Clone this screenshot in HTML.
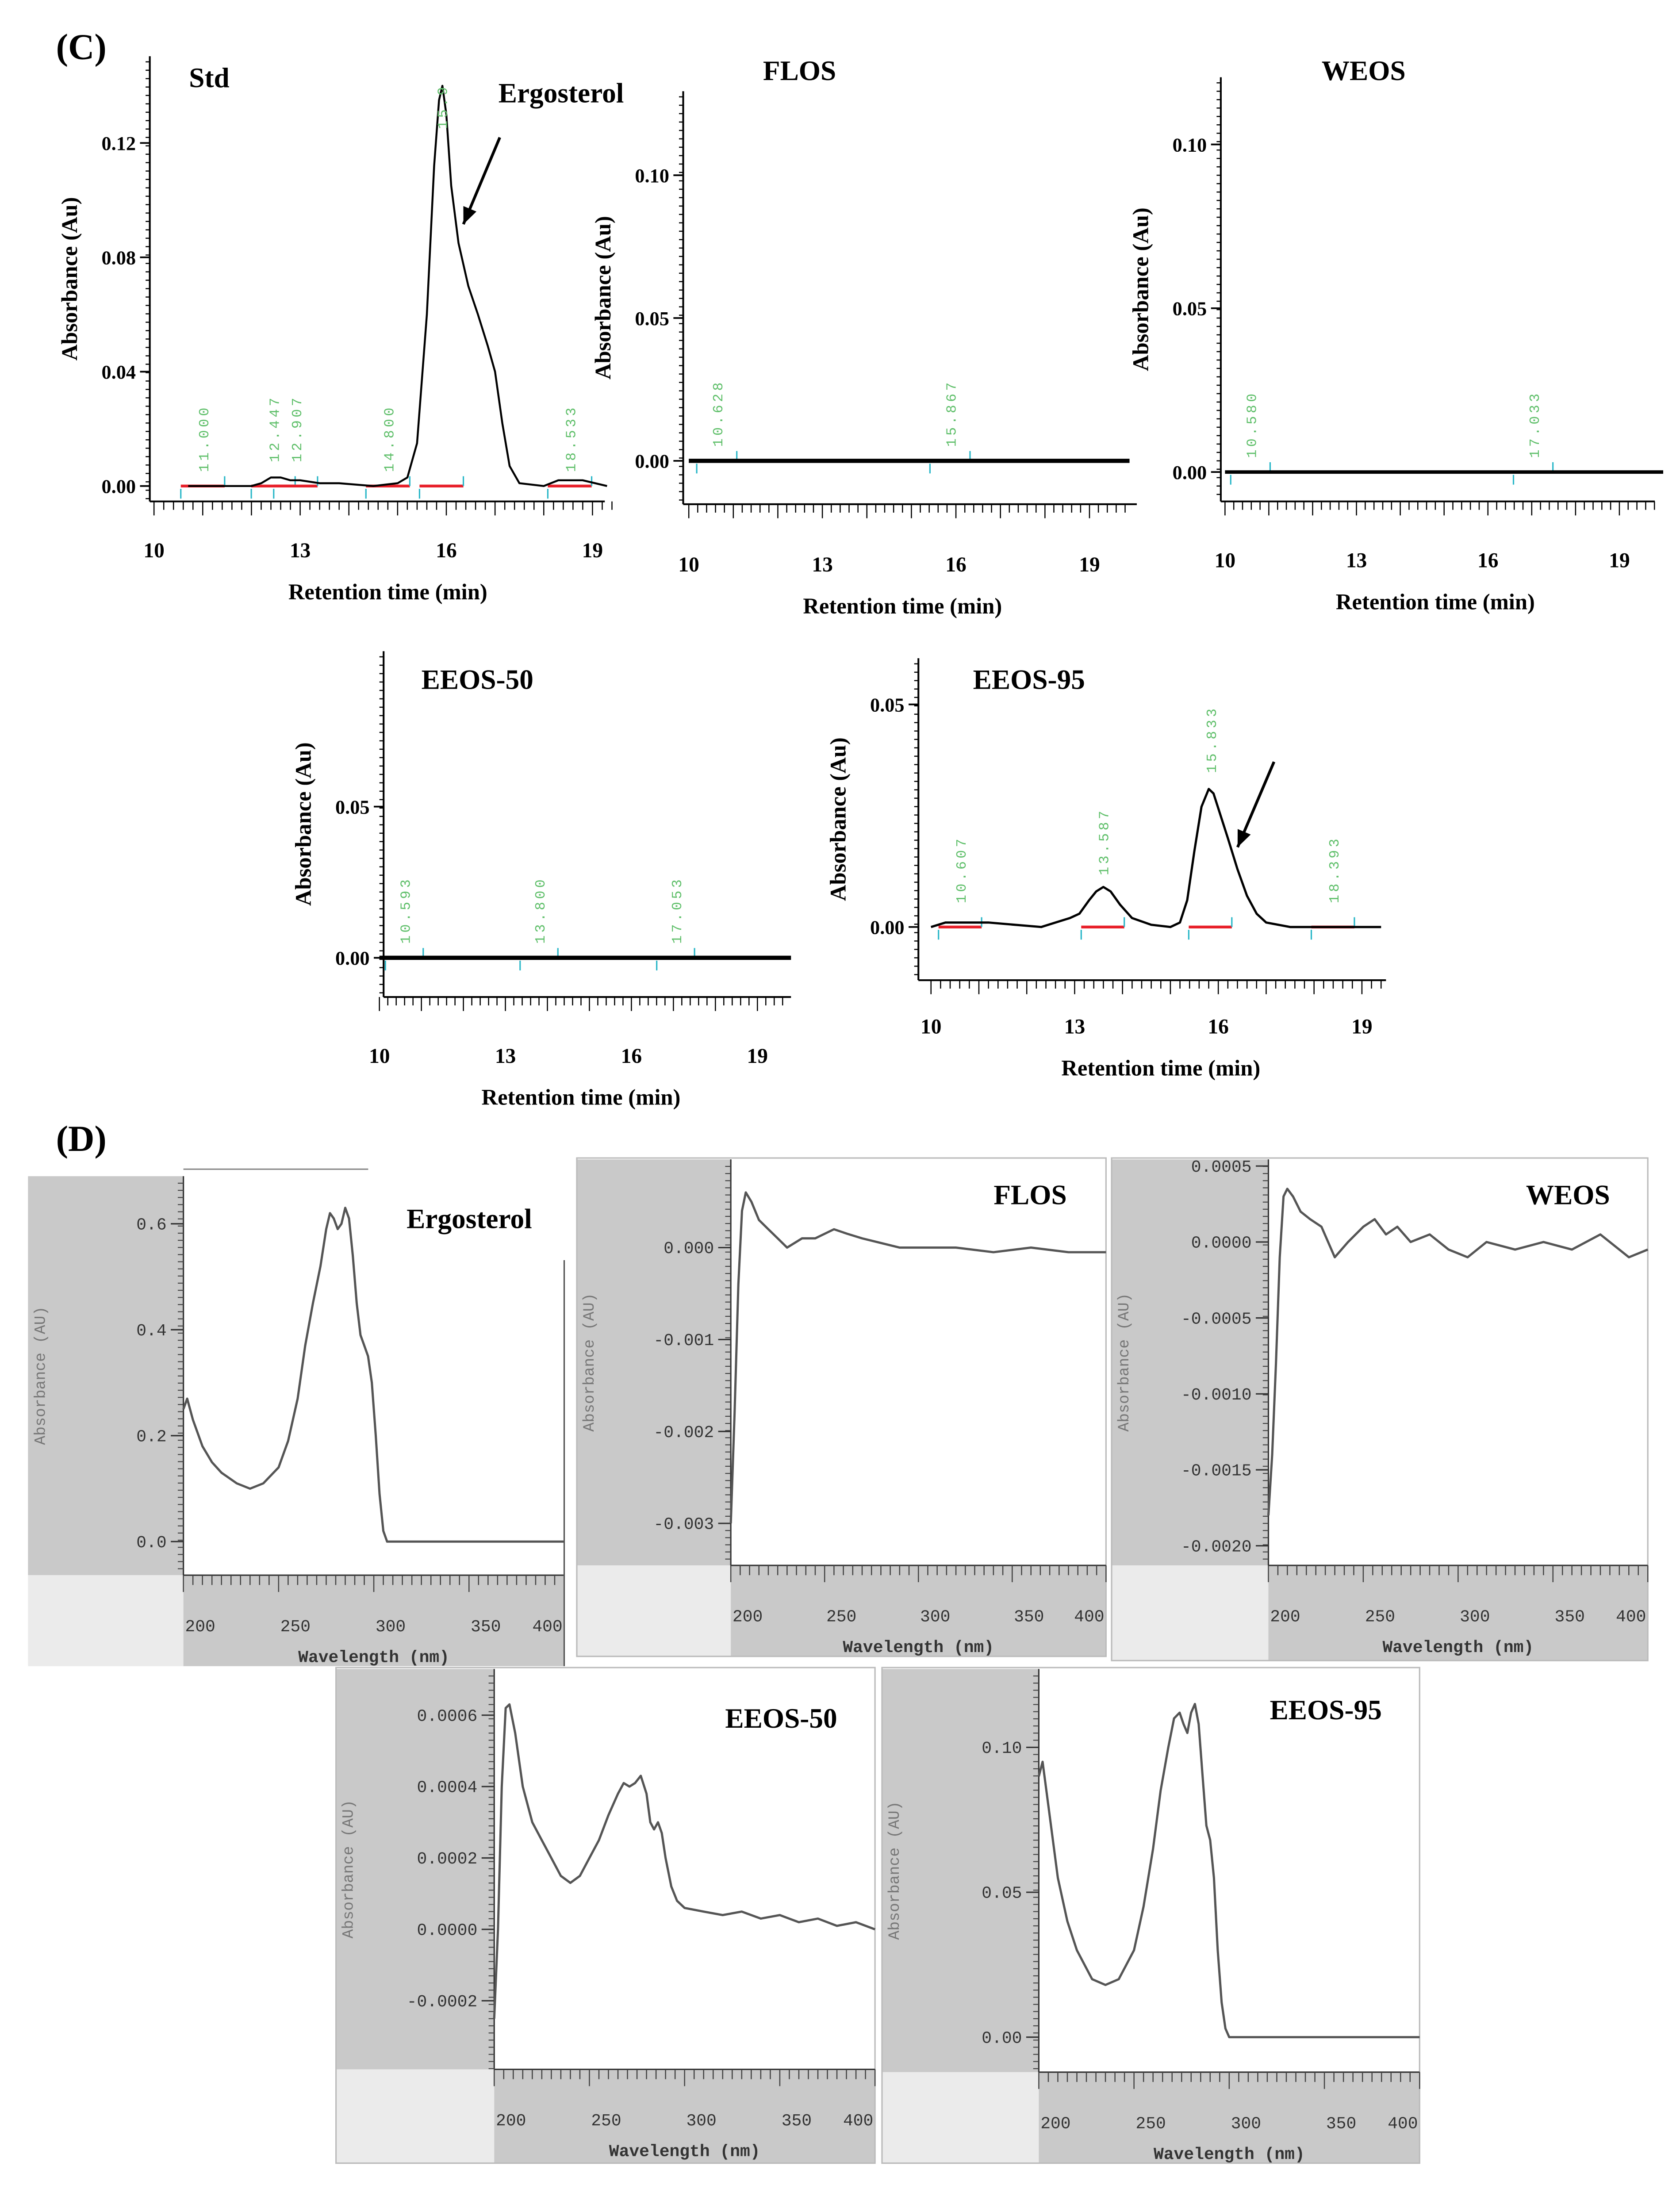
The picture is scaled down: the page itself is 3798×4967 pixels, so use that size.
<!DOCTYPE html>
<html><head><meta charset="utf-8">
<style>
html,body{margin:0;padding:0;background:#fff;}
svg{display:block;}
.serif{font-family:"Liberation Serif",serif;font-weight:bold;}
.mono{font-family:"Liberation Mono",monospace;}
</style></head>
<body>
<svg id="fig" width="3798" height="4967" viewBox="0 0 1200 1569" xmlns="http://www.w3.org/2000/svg">
<text x="40" y="42" class="serif" font-size="26">(C)</text>
<text x="40" y="822" class="serif" font-size="26">(D)</text>
</svg>
<script>
// ---------- Chromatogram data (retention time min, absorbance Au) ----------
const stdTimes = [10.7,12.0,12.2,12.4,12.6,12.8,13.0,13.4,13.8,14.5,15.0,15.2,15.4,15.6,15.75,15.85,15.92,16.0,16.1,16.25,16.45,16.65,16.85,17.0,17.15,17.3,17.5,18.0,18.3,18.8,19.3];
const stdValues = [0,0,0.001,0.003,0.003,0.002,0.002,0.001,0.001,0,0.001,0.003,0.015,0.06,0.112,0.135,0.14,0.13,0.105,0.085,0.07,0.06,0.049,0.04,0.022,0.007,0.001,0,0.002,0.002,0];
const flosTimes = [10.0,19.9];
const flosValues = [0,0];
const weosTimes = [10.0,20.0];
const weosValues = [0,0];
const eeos50Times = [10.0,19.8];
const eeos50Values = [0,0];
const eeos95Times = [10.0,10.3,11.2,12.3,12.6,12.9,13.1,13.3,13.45,13.6,13.75,13.95,14.2,14.6,15.0,15.2,15.35,15.5,15.65,15.8,15.9,16.05,16.2,16.4,16.6,16.8,17.0,17.5,18.5,19.0,19.4];
const eeos95Values = [0,0.001,0.001,0,0.001,0.002,0.003,0.006,0.008,0.009,0.008,0.005,0.002,0.0005,0,0.001,0.006,0.017,0.027,0.031,0.03,0.025,0.02,0.013,0.007,0.003,0.001,0,0,0,0];
const stdPeaks = ["11.000","12.447","12.907","14.800","15.9","18.533"];
const stdPeakTimes = [11.0,12.447,12.907,14.8,15.9,18.533];
const flosPeaks = ["10.628","15.867"];
const flosPeakTimes = [10.628,15.867];
const weosPeaks = ["10.580","17.033"];
const weosPeakTimes = [10.58,17.033];
const eeos50Peaks = ["10.593","13.800","17.053"];
const eeos50PeakTimes = [10.593,13.8,17.053];
const eeos95Peaks = ["10.607","13.587","15.833","18.393"];
const eeos95PeakTimes = [10.607,13.587,15.833,18.393];
const xTickLabels = ["10","13","16","19"];

// ---------- UV spectra data (wavelength nm, absorbance AU) ----------
const ergoWl = [200,202,205,210,215,220,228,235,242,250,255,260,264,268,272,275,277,279,281,283,285,287,289,291,293,295,297,299,301,303,305,307,400];
const ergoAbs = [0.25,0.27,0.23,0.18,0.15,0.13,0.11,0.1,0.11,0.14,0.19,0.27,0.37,0.45,0.52,0.59,0.62,0.61,0.59,0.6,0.63,0.61,0.54,0.45,0.39,0.37,0.35,0.3,0.2,0.09,0.02,0,0];
const flosWl = [200,202,204,206,208,211,215,220,225,230,238,245,255,262,270,280,290,300,320,340,360,380,400];
const flosAbs = [-0.003,-0.0018,-0.0004,0.0004,0.0006,0.0005,0.0003,0.0002,0.0001,0.0,0.0001,0.0001,0.0002,0.00015,0.0001,0.00005,0.0,0.0,0.0,-0.00005,0.0,-0.00005,-0.00005];
const weosWl = [200,202,204,206,208,210,213,217,222,228,235,242,250,256,262,268,275,285,295,305,315,330,345,360,375,390,400];
const weosAbs = [-0.0018,-0.0014,-0.0008,-0.0001,0.0003,0.00035,0.0003,0.0002,0.00015,0.0001,-0.0001,0.0,0.0001,0.00015,0.00005,0.0001,0.0,0.00005,-0.00005,-0.0001,0.0,-0.00005,0.0,-0.00005,0.00005,-0.0001,-0.00005];
const e50Wl = [200,202,204,206,208,211,215,220,225,230,235,240,245,250,255,260,265,268,271,274,277,280,282,284,286,288,290,293,296,300,310,320,330,340,350,360,370,380,390,400];
const e50Abs = [-0.00025,0.0,0.0004,0.00062,0.00063,0.00055,0.0004,0.0003,0.00025,0.0002,0.00015,0.00013,0.00015,0.0002,0.00025,0.00032,0.00038,0.00041,0.0004,0.00041,0.00043,0.00038,0.0003,0.00028,0.0003,0.00027,0.0002,0.00012,0.00008,0.00006,0.00005,0.00004,0.00005,0.00003,0.00004,0.00002,0.00003,0.00001,0.00002,0.0];
const e95Wl = [200,202,205,210,215,220,228,235,242,250,255,260,264,268,271,274,276,278,280,282,284,286,288,290,292,294,296,298,300,400];
const e95Abs = [0.09,0.095,0.08,0.055,0.04,0.03,0.02,0.018,0.02,0.03,0.045,0.065,0.085,0.1,0.11,0.112,0.108,0.105,0.112,0.115,0.108,0.09,0.073,0.068,0.055,0.03,0.012,0.003,0,0];
const wlTicks = ["200","250","300","350","400"];

const NS="http://www.w3.org/2000/svg";
const svg=document.getElementById('fig');
function mk(tag,attrs,name,parent){
  const el=document.createElementNS(NS,tag);
  for(const k in attrs) el.setAttribute(k,attrs[k]);
  
  
  (parent||svg).appendChild(el);
  return el;
}
function txt(x,y,s,attrs,name){const t=mk('text',Object.assign({x:x,y:y},attrs),name);t.textContent=s;return t;}

function chrom(c){
  const g=mk('g',{},c.id+'-chart');
  const tx=t=>c.a+(t-10)*c.k, ty=v=>c.b-v*c.m;
  mk('line',{x1:c.ax,y1:c.top,x2:c.ax,y2:c.bot,stroke:'#000','stroke-width':1.3},c.id+'-y-axis',g);
  for(let y=c.top+4;y<c.bot;y+=6) mk('line',{x1:c.ax-3,y1:y,x2:c.ax,y2:y,stroke:'#000','stroke-width':0.8},'y-minor-tick',g);
  c.yt.forEach((v,i)=>{
    mk('line',{x1:c.ax-7,y1:ty(v),x2:c.ax,y2:ty(v),stroke:'#000','stroke-width':1.2},'y-major-tick',g);
    txt(c.ax-10,ty(v)+5,c.yl[i],{'class':'serif','font-size':14,'text-anchor':'end','font-weight':'normal'},'y-tick-label');
  });
  mk('line',{x1:c.ax,y1:c.bot,x2:c.xend,y2:c.bot,stroke:'#000','stroke-width':1.3},c.id+'-x-axis',g);
  for(let t=10;t<=c.tmax;t+=0.2){const x=tx(t);const maj=Math.abs(t-Math.round(t))<0.01;
    mk('line',{x1:x,y1:c.bot,x2:x,y2:c.bot+(maj?10:6),stroke:'#000','stroke-width':0.8},'x-tick',g);}
  xTickLabels.forEach(l=>txt(tx(+l),c.lab,l,{'class':'serif','font-size':15,'text-anchor':'middle','font-weight':'normal'},'x-tick-label'));
  txt(tx(14.8),c.lab+30,'Retention time (min)',{'class':'serif','font-size':16,'text-anchor':'middle','font-weight':'normal'},'x-axis-title');
  const yc=(c.top+c.bot)/2;
  txt(c.ax-52,yc,'Absorbance (Au)',{'class':'serif','font-size':16,'text-anchor':'middle','font-weight':'normal',transform:`rotate(-90 ${c.ax-52} ${yc})`},'y-axis-title');
  txt(c.tx,c.ty,c.title,{'class':'serif','font-size':20,'font-weight':'normal'},'chart-title');
  c.pt.forEach((t,i)=>{
    mk('line',{x1:tx(t-0.45),y1:ty(0),x2:tx(t+0.45),y2:ty(0),stroke:'#e8202a','stroke-width':2},'integration-baseline',g);
    mk('line',{x1:tx(t-0.45),y1:ty(0)+2,x2:tx(t-0.45),y2:ty(0)+9,stroke:'#2ab7c8','stroke-width':1},'peak-start-marker',g);
    mk('line',{x1:tx(t+0.45),y1:ty(0)-7,x2:tx(t+0.45),y2:ty(0),stroke:'#2ab7c8','stroke-width':1},'peak-end-marker',g);
    const px=tx(t)+4, py=c.py?c.py[i]:ty(0)-10;
    txt(px,py,c.pl[i],{'font-family':'Liberation Mono,monospace','font-size':10,fill:'#5fbf6a','letter-spacing':2,transform:`rotate(-90 ${px} ${py})`},'peak-label');
  });
  const d=c.times.map((t,i)=>(i?'L':'M')+tx(t).toFixed(1)+' '+ty(c.vals[i]).toFixed(1)).join(' ');
  mk('path',{d:d,fill:'none',stroke:'#000','stroke-width':c.w,'stroke-linejoin':'round'},c.id+'-trace',g);
}
chrom({id:'std',a:110,k:34.8,b:347,m:2042,ax:107,top:40,bot:358,xend:432,tmax:19.4,lab:398,yt:[0,0.04,0.08,0.12],yl:["0.00","0.04","0.08","0.12"],title:'Std',tx:135,ty:62,times:stdTimes,vals:stdValues,pt:stdPeakTimes,pl:stdPeaks,py:[337,330,330,337,92,337],w:1.4});
chrom({id:'flos',a:492,k:31.8,b:329,m:2040,ax:488,top:65,bot:360,xend:812,tmax:19.9,lab:408,yt:[0,0.05,0.1],yl:["0.00","0.05","0.10"],title:'FLOS',tx:545,ty:57,times:flosTimes,vals:flosValues,pt:flosPeakTimes,pl:flosPeaks,w:3});
chrom({id:'weos',a:875,k:31.3,b:337,m:2340,ax:872,top:55,bot:358,xend:1182,tmax:19.9,lab:405,yt:[0,0.05,0.1],yl:["0.00","0.05","0.10"],title:'WEOS',tx:944,ty:57,times:weosTimes,vals:weosValues,pt:weosPeakTimes,pl:weosPeaks,w:2.5});
chrom({id:'eeos50',a:271,k:30,b:684,m:2160,ax:274,top:465,bot:712,xend:565,tmax:19.7,lab:759,yt:[0,0.05],yl:["0.00","0.05"],title:'EEOS-50',tx:301,ty:492,times:eeos50Times,vals:eeos50Values,pt:eeos50PeakTimes,pl:eeos50Peaks,w:3});
chrom({id:'eeos95',a:665,k:34.2,b:662,m:3180,ax:656,top:470,bot:700,xend:990,tmax:19.5,lab:738,yt:[0,0.05],yl:["0.00","0.05"],title:'EEOS-95',tx:695,ty:492,times:eeos95Times,vals:eeos95Values,pt:eeos95PeakTimes,pl:eeos95Peaks,py:[645,625,552,645],w:1.6});
txt(356,73,'Ergosterol',{'class':'serif','font-size':20,'font-weight':'normal'},'ergosterol-annotation');
function arrow(x1,y1,x2,y2,name){
  mk('line',{x1:x1,y1:y1,x2:x2,y2:y2,stroke:'#000','stroke-width':2},name,svg);
  const a=Math.atan2(y2-y1,x2-x1),L=13,w=0.4;
  mk('polygon',{points:`${x2},${y2} ${x2-L*Math.cos(a-w)},${y2-L*Math.sin(a-w)} ${x2-L*Math.cos(a+w)},${y2-L*Math.sin(a+w)}`,fill:'#000'},name+'-head',svg);
}
arrow(357,98,331,160,'std-arrow');
arrow(910,544,884,605,'eeos95-arrow');

function spec(c){
  const g=mk('g',{},c.id+'-spectrum');
  const wx=w=>c.px0+(w-200)*(c.px1-c.px0)/200;
  const ay=v=>c.y0+(v-c.v0)*(c.y1-c.y0)/(c.v1-c.v0);
  mk('rect',{x:c.gx,y:c.top,width:c.px0-c.gx,height:c.pb-c.top,fill:'#c9c9c9'},'y-axis-panel',g);
  mk('rect',{x:c.gx,y:c.pb,width:c.px0-c.gx,height:c.bb-c.pb,fill:'#ebebeb'},'corner-panel',g);
  mk('rect',{x:c.px0,y:c.pb,width:c.px1-c.px0,height:c.bb-c.pb,fill:'#c9c9c9'},'x-axis-panel',g);
  if(c.frame) mk('rect',{x:c.gx,y:c.top-1,width:c.px1-c.gx,height:c.bb-c.top+1,fill:'none',stroke:'#bbb','stroke-width':1},'frame',g);
  mk('line',{x1:c.px0,y1:c.top,x2:c.px0,y2:c.pb,stroke:'#333','stroke-width':1},'y-axis',g);
  mk('line',{x1:c.px0,y1:c.pb,x2:c.px1,y2:c.pb,stroke:'#333','stroke-width':1},'x-axis',g);
  for(let y=c.top+5;y<c.pb;y+=5.1) mk('line',{x1:c.px0-4,y1:y,x2:c.px0,y2:y,stroke:'#444','stroke-width':0.7},'y-minor-tick',g);
  c.ticks.forEach((v,i)=>{
    mk('line',{x1:c.px0-9,y1:ay(v),x2:c.px0,y2:ay(v),stroke:'#333','stroke-width':1},'y-major-tick',g);
    txt(c.px0-12,ay(v)+4,c.labels[i],{'class':'mono','font-size':12,'text-anchor':'end',fill:'#333'},'y-tick-label');
  });
  for(let w=200;w<=400;w+=5){const maj=w%50===0;
    mk('line',{x1:wx(w),y1:c.pb,x2:wx(w),y2:c.pb+(maj?12:7),stroke:'#444','stroke-width':0.8},'x-tick',g);}
  wlTicks.forEach(l=>txt(wx(+l)+ (l==='400'?-12:12),c.pb+40,l,{'class':'mono','font-size':12,'text-anchor':'middle',fill:'#333'},'x-tick-label'));
  txt((c.px0+c.px1)/2,c.pb+62,'Wavelength (nm)',{'class':'mono','font-size':12,'text-anchor':'middle',fill:'#333','font-weight':'bold'},'x-axis-title');
  const yc=(c.top+c.pb)/2, ax=c.gx+12;
  txt(ax,yc,'Absorbance (AU)',{'class':'mono','font-size':11,'text-anchor':'middle',fill:'#777',transform:`rotate(-90 ${ax} ${yc})`},'y-axis-title');
  txt(c.tx,c.ty,c.title,{'class':'serif','font-size':20,'text-anchor':'end','font-weight':'normal'},'spectrum-title');
  const d=c.wl.map((w,i)=>(i?'L':'M')+wx(w).toFixed(1)+' '+ay(c.ab[i]).toFixed(1)).join(' ');
  mk('path',{d:d,fill:'none',stroke:'#555','stroke-width':1.6,'stroke-linejoin':'round'},c.id+'-trace',g);
}
spec({id:'ergosterol',gx:20,top:840,px0:131,px1:403,pb:1125,bb:1190,v0:0,y0:1101,v1:0.6,y1:874,ticks:[0,0.2,0.4,0.6],labels:["0.0","0.2","0.4","0.6"],title:'Ergosterol',tx:380,ty:877,wl:ergoWl,ab:ergoAbs});
mk('line',{x1:131,y1:835,x2:263,y2:835,stroke:'#888','stroke-width':1},'ergosterol-top-line',svg);
mk('line',{x1:403,y1:900,x2:403,y2:1190,stroke:'#555','stroke-width':1},'ergosterol-right-line',svg);
spec({id:'flos',gx:412,top:828,px0:522,px1:790,pb:1118,bb:1183,v0:0,y0:891,v1:-0.003,y1:1088,ticks:[0,-0.001,-0.002,-0.003],labels:["0.000","-0.001","-0.002","-0.003"],title:'FLOS',tx:762,ty:860,wl:flosWl,ab:flosAbs,frame:true});
spec({id:'weos',gx:794,top:828,px0:906,px1:1177,pb:1118,bb:1186,v0:0,y0:887,v1:-0.002,y1:1104,ticks:[0.0005,0,-0.0005,-0.001,-0.0015,-0.002],labels:["0.0005","0.0000","-0.0005","-0.0010","-0.0015","-0.0020"],title:'WEOS',tx:1150,ty:860,wl:weosWl,ab:weosAbs,frame:true});
spec({id:'eeos50',gx:240,top:1192,px0:353,px1:625,pb:1478,bb:1545,v0:0,y0:1378,v1:0.0006,y1:1225,ticks:[0.0006,0.0004,0.0002,0,-0.0002],labels:["0.0006","0.0004","0.0002","0.0000","-0.0002"],title:'EEOS-50',tx:598,ty:1234,wl:e50Wl,ab:e50Abs,frame:true});
spec({id:'eeos95',gx:630,top:1192,px0:742,px1:1014,pb:1480,bb:1545,v0:0,y0:1455,v1:0.1,y1:1248,ticks:[0,0.05,0.1],labels:["0.00","0.05","0.10"],title:'EEOS-95',tx:987,ty:1228,wl:e95Wl,ab:e95Abs,frame:true});
</script>
</body></html>
